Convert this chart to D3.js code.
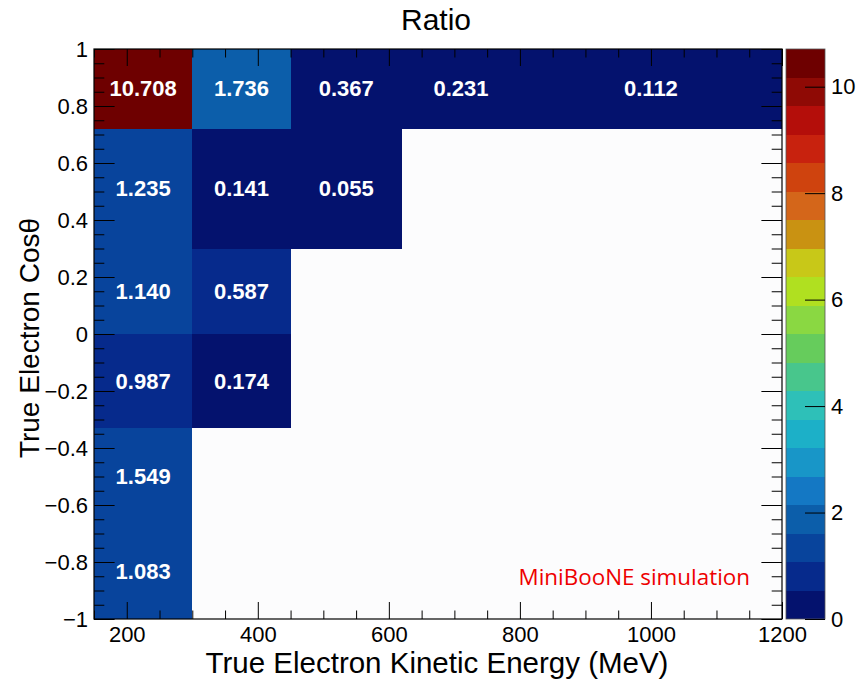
<!DOCTYPE html>
<html>
<head>
<meta charset="utf-8">
<script src="https://cdn.jsdelivr.net/npm/d3@7"></script>
<style>
  html, body { margin: 0; padding: 0; background: #ffffff; }
  svg { display: block; font-family: "Liberation Sans", Arial, Helvetica, sans-serif; }
</style>
</head>
<body>
<svg id="chart" width="857" height="685"></svg>
<script>
// ---------------- data ----------------
const xEdges = [150, 300, 450, 620, 800, 1200];          // MeV
const yEdges = [-1, -0.67, -0.33, 0, 0.3, 0.72, 1];       // cos theta
// one array per cosθ bin (bottom to top), one entry per energy bin (null = empty)
const row0 = [1.083, null, null, null, null];
const row1 = [1.549, null, null, null, null];
const row2 = [0.987, 0.174, null, null, null];
const row3 = [1.140, 0.587, null, null, null];
const row4 = [1.235, 0.141, 0.055, null, null];
const row5 = [10.708, 1.736, 0.367, 0.231, 0.112];
const rows = [row0, row1, row2, row3, row4, row5];

const xMajorTicks = [200, 400, 600, 800, 1000, 1200];
const yMajorTicks = [-1, -0.8, -0.6, -0.4, -0.2, 0, 0.2, 0.4, 0.6, 0.8, 1];
const zTicks = [0, 2, 4, 6, 8, 10];
const zMax = 10.708;

const palette = [
  "#04126e", "#062a8c", "#08449c", "#0c5eaa", "#1478c4",
  "#1896c8", "#1cb0c8", "#2ec0b8", "#48c68c", "#66cc5c",
  "#8ad842", "#b0e020", "#c8c818", "#c99212", "#d4661a",
  "#cf430e", "#c8220e", "#b40e0a", "#8f0a05", "#6e0000"
];

const titleText = "Ratio";
const xTitle = "True Electron Kinetic Energy (MeV)";
const yTitle = "True Electron Cos\u03B8";
const noteText = "MiniBooNE simulation";

// ---------------- layout ----------------
const L = 94, R = 782, T = 49, B = 619;
const svg = d3.select("#chart");

const x = d3.scaleLinear().domain([150, 1200]).range([L, R]);
const y = d3.scaleLinear().domain([-1, 1]).range([B, T]);
const color = d3.scaleQuantize().domain([0, zMax]).range(palette);

// plot background
svg.append("rect").attr("x", L).attr("y", T).attr("width", R - L).attr("height", B - T)
  .attr("fill", "#fcfcfd");

// cells
const cells = [];
rows.forEach((r, yi) => r.forEach((v, xi) => {
  if (v !== null) cells.push({ xi, yi, v });
}));

svg.append("g").selectAll("rect").data(cells).join("rect")
  .attr("x", d => x(xEdges[d.xi]))
  .attr("y", d => y(yEdges[d.yi + 1]))
  .attr("width", d => x(xEdges[d.xi + 1]) - x(xEdges[d.xi]))
  .attr("height", d => y(yEdges[d.yi]) - y(yEdges[d.yi + 1]))
  .attr("fill", d => color(d.v))
  .attr("shape-rendering", "crispEdges");

svg.append("g").selectAll("text").data(cells).join("text")
  .attr("x", d => x((xEdges[d.xi] + xEdges[d.xi + 1]) / 2))
  .attr("y", d => y((yEdges[d.yi] + yEdges[d.yi + 1]) / 2))
  .attr("text-anchor", "middle")
  .attr("dominant-baseline", "central")
  .attr("fill", "#ffffff")
  .attr("font-weight", "bold")
  .attr("font-size", 22)
  .text(d => d3.format(".3f")(d.v));

// ---------------- axes ----------------
const xMinor = d3.range(150, 1201, 50).filter(v => !xMajorTicks.includes(v));
const yMinor = d3.range(-20, 21, 1).map(v => v / 20).filter(v => !yMajorTicks.some(m => Math.abs(m - v) < 1e-9));
const fmtY = d3.format("~g");

function styleAxis(g) {
  g.select(".domain").remove();
  g.selectAll("line").attr("stroke", "#000").attr("stroke-width", 1);
  g.selectAll("text").attr("fill", "#000").attr("font-size", 22);
}

// bottom
svg.append("g").attr("transform", `translate(0,${B})`)
  .call(d3.axisBottom(x).tickValues(xMajorTicks).tickSize(-17).tickPadding(7).tickFormat(d3.format("d")))
  .call(styleAxis);
svg.append("g").attr("transform", `translate(0,${B})`)
  .call(d3.axisBottom(x).tickValues(xMinor).tickSize(-8.5).tickFormat(""))
  .call(styleAxis);
// top
svg.append("g").attr("transform", `translate(0,${T})`)
  .call(d3.axisTop(x).tickValues(xMajorTicks).tickSize(-17).tickFormat(""))
  .call(styleAxis);
svg.append("g").attr("transform", `translate(0,${T})`)
  .call(d3.axisTop(x).tickValues(xMinor).tickSize(-8.5).tickFormat(""))
  .call(styleAxis);
// left
svg.append("g").attr("transform", `translate(${L},0)`)
  .call(d3.axisLeft(y).tickValues(yMajorTicks).tickSize(-20.6).tickPadding(6).tickFormat(fmtY))
  .call(styleAxis);
svg.append("g").attr("transform", `translate(${L},0)`)
  .call(d3.axisLeft(y).tickValues(yMinor).tickSize(-10.3).tickFormat(""))
  .call(styleAxis);
// right
svg.append("g").attr("transform", `translate(${R},0)`)
  .call(d3.axisRight(y).tickValues(yMajorTicks).tickSize(-20.6).tickFormat(""))
  .call(styleAxis);
svg.append("g").attr("transform", `translate(${R},0)`)
  .call(d3.axisRight(y).tickValues(yMinor).tickSize(-10.3).tickFormat(""))
  .call(styleAxis);

// frame
svg.append("rect").attr("x", L).attr("y", T).attr("width", R - L).attr("height", B - T)
  .attr("fill", "none").attr("stroke", "#000").attr("stroke-width", 1.2);

// ---------------- colour bar ----------------
const CL = 786, CR = 825;
const z = d3.scaleLinear().domain([0, zMax]).range([B, T]);
const step = zMax / palette.length;
svg.append("g").selectAll("rect").data(palette).join("rect")
  .attr("x", CL)
  .attr("y", (c, i) => z((i + 1) * step))
  .attr("width", CR - CL)
  .attr("height", (c, i) => z(i * step) - z((i + 1) * step))
  .attr("fill", c => c)
  .attr("shape-rendering", "crispEdges");
svg.append("rect").attr("x", CL).attr("y", T).attr("width", CR - CL).attr("height", B - T)
  .attr("fill", "none").attr("stroke", "#555").attr("stroke-width", 0.8);
svg.append("g").attr("transform", `translate(${CR},0)`)
  .call(d3.axisRight(z).tickValues(zTicks).tickSize(-20).tickPadding(6).tickFormat(d3.format("d")))
  .call(styleAxis);

// ---------------- texts ----------------
svg.append("text").attr("x", 436).attr("y", 30).attr("text-anchor", "middle")
  .attr("font-size", 30).attr("fill", "#000").text(titleText);

svg.append("text").attr("x", (L + R) / 2 - 1).attr("y", 673).attr("text-anchor", "middle")
  .attr("font-size", 29.5).attr("fill", "#000").text(xTitle);

svg.append("text").attr("transform", `translate(39,${(T + B) / 2 + 4}) rotate(-90)`)
  .attr("text-anchor", "middle").attr("font-size", 28).attr("fill", "#000").text(yTitle);

svg.append("text").attr("x", 750).attr("y", 585).attr("text-anchor", "end")
  .attr("font-family", "'Open Sans', 'Noto Sans', sans-serif")
  .attr("font-size", 22.4).attr("fill", "#ee0000").text(noteText);
</script>
</body>
</html>
